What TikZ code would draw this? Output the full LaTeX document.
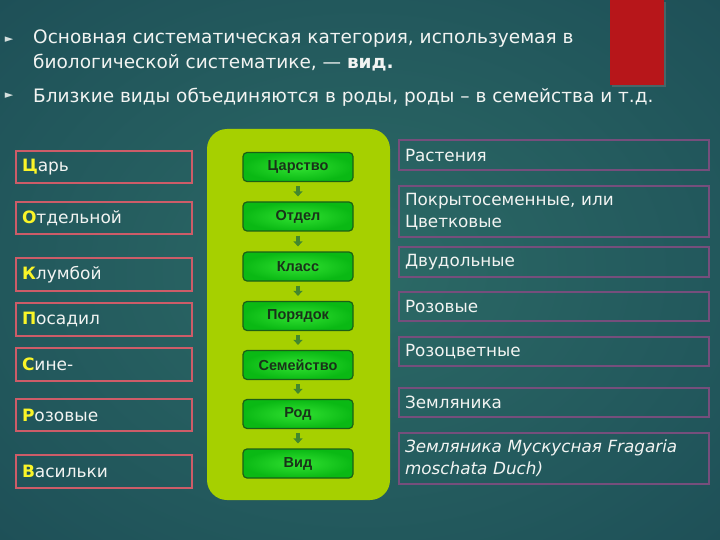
\documentclass[tikz,border=0pt]{standalone}
\usepackage{fontspec}
\setmainfont{DejaVu Sans}
\newfontfamily\arialfont{Liberation Sans}
\usetikzlibrary{arrows.meta,shadows}
\definecolor{bgdark}{RGB}{18,52,68}
\definecolor{bgmid}{RGB}{44,106,102}
\definecolor{bgmid2}{RGB}{32,84,90}
\definecolor{redbox}{RGB}{183,22,26}
\definecolor{leftedge}{RGB}{205,92,104}
\definecolor{rightedge}{RGB}{118,78,124}
\definecolor{panel}{RGB}{166,208,0}
\definecolor{gbox}{RGB}{10,185,20}
\definecolor{gboxlight}{RGB}{50,225,50}
\definecolor{gboxedge}{RGB}{28,95,22}
\definecolor{gtext}{RGB}{25,50,25}
\definecolor{garrow}{RGB}{66,135,46}
\definecolor{yel}{RGB}{250,245,40}
\definecolor{txt}{RGB}{242,244,242}
\pgfdeclareradialshading{bgsh}{\pgfpoint{0bp}{0bp}}{color(0bp)=(bgmid); color(30bp)=(bgmid2); color(72bp)=(bgdark)}
\tikzset{
  lbox/.style={draw=leftedge, line width=1.6pt, minimum width=176pt, text width=164pt, inner xsep=6pt, align=left, text=txt, font=\fontsize{17}{20}\selectfont},
  rbox/.style={draw=rightedge, line width=1.6pt, minimum width=310pt, text width=298pt, inner xsep=6pt, align=left, text=txt, font=\fontsize{16.8}{22}\selectfont},
  gstep/.style={draw=gboxedge, line width=1.2pt, rounded corners=4pt, inner color=gboxlight, outer color=gbox, minimum width=110pt, minimum height=29pt, text=gtext, font=\arialfont\bfseries\fontsize{14.5}{16}\selectfont},
  garr/.style={draw=garrow, line width=3.5pt, -{Triangle[length=5pt,width=9pt]}},
  bul/.style={text=txt!85!bgmid, font=\fontsize{11}{12}\selectfont},
  toptext/.style={text=txt, inner sep=0pt, font=\fontsize{18.5}{25}\selectfont},
}
\newcommand{\Y}[1]{\textcolor{yel}{\textbf{#1}}}
\begin{document}
\begin{tikzpicture}[x=1pt,y=-1pt]
\useasboundingbox (0,0) rectangle (720,540);
\shade[shading=bgsh] (0,0) rectangle (720,540);
% red bar
\fill[redbox, drop shadow={opacity=0.4,shadow xshift=2pt,shadow yshift=-2pt}] (610,0) rectangle (664,85);
% bullets and text
\node[bul] (b1) at (9,40) {►};
\node[bul] (b2) at (9,96) {►};
\node[anchor=base west, align=left, toptext] (t1) at (33,69) {Основная систематическая категория, используемая в\\биологической систематике, — \textbf{вид.}};
\node[anchor=base west, toptext] (t2) at (33,103) {Близкие виды объединяются в роды, роды – в семейства и т.д.};
% green panel
\fill[panel, rounded corners=20pt] (207,129) rectangle (390,500);
\node[gstep] (g1) at (298,167) {Царство};
\node[gstep] (g2) at (298,216.5) {Отдел};
\node[gstep] (g3) at (298,266.5) {Класс};
\node[gstep] (g4) at (298,316) {Порядок};
\node[gstep] (g5) at (298,365) {Семейство};
\node[gstep] (g6) at (298,414) {Род};
\node[gstep] (g7) at (298,463.5) {Вид};
\foreach \a/\b in {g1/g2,g2/g3,g3/g4,g4/g5,g5/g6,g6/g7}
  \draw[garr] ([yshift=-4pt]\a.south) -- ([yshift=5pt]\b.north);
% left boxes
\node[lbox, minimum height=32pt] (l1) at (104,167) {\Y{Ц}арь};
\node[lbox, minimum height=32pt] (l2) at (104,218) {\Y{О}тдельной};
\node[lbox, minimum height=33pt] (l3) at (104,274.5) {\Y{К}лумбой};
\node[lbox, minimum height=33pt] (l4) at (104,319.5) {\Y{П}осадил};
\node[lbox, minimum height=33pt] (l5) at (104,364.5) {\Y{С}ине-};
\node[lbox, minimum height=32pt] (l6) at (104,415) {\Y{Р}озовые};
\node[lbox, minimum height=33pt] (l7) at (104,471.5) {\Y{В}асильки};
% right boxes
\node[rbox, minimum height=30pt] (r1) at (554,155) {Растения};
\node[rbox, minimum height=51pt] (r2) at (554,211.5) {Покрытосеменные, или\\Цветковые};
\node[rbox, minimum height=30pt] (r3) at (554,262) {Двудольные};
\node[rbox, minimum height=29pt] (r4) at (554,306.5) {Розовые};
\node[rbox, minimum height=29pt] (r5) at (554,351.5) {Розоцветные};
\node[rbox, minimum height=29pt] (r6) at (554,402.5) {Земляника};
\node[rbox, minimum height=51pt] (r7) at (554,458.5) {\itshape Земляника Мускусная Fragaria\\moschata Duch)};
\end{tikzpicture}
\end{document}
